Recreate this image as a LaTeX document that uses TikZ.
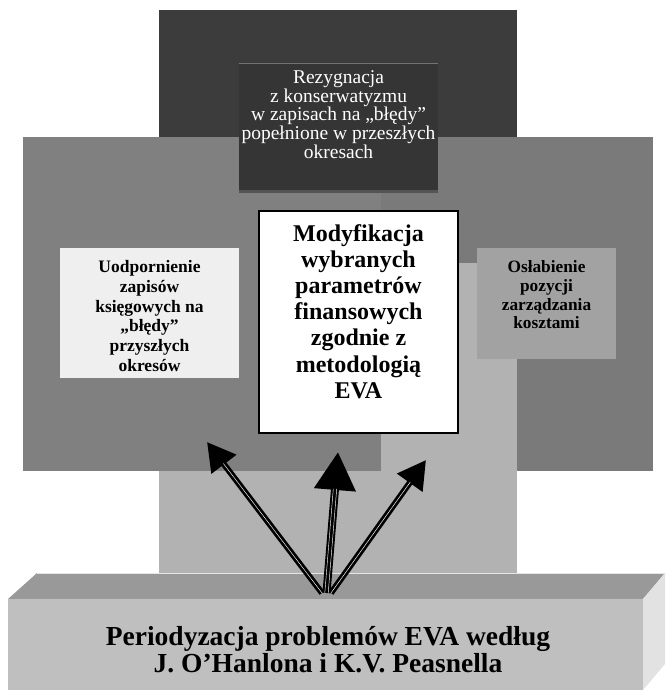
\documentclass[tikz,border=0pt]{standalone}
\usepackage{fontspec}
\setmainfont{Liberation Serif}
\usetikzlibrary{arrows.meta}
\definecolor{cdark}{HTML}{3C3C3C}
\definecolor{cinner}{HTML}{353535}
\definecolor{cgrayL}{HTML}{808080}
\definecolor{cgrayR}{HTML}{7A7A7A}
\definecolor{ccol}{HTML}{B2B2B2}
\definecolor{cleft}{HTML}{EFEFEF}
\definecolor{cright}{HTML}{A2A2A2}
\definecolor{cfront}{HTML}{BFBFBF}
\definecolor{ctop}{HTML}{999999}
\definecolor{cside}{HTML}{E2E2E2}
\tikzset{
  lbl/.style={align=center, inner sep=0pt},
  shaft/.style={line width=6pt, black},
  shaftline/.style={white, line width=0.45pt},
}
\begin{document}
\begin{tikzpicture}[x=1pt,y=-1pt]
\useasboundingbox (0,0) rectangle (665,690);
% background blocks
\fill[cgrayR] (381,137) rectangle (653,471);
\fill[ccol] (159,263) rectangle (517,573);
\fill[cgrayL] (23,137) rectangle (381,471);
\fill[cdark] (159,10) rectangle (517,137);
% inner dark box
\fill[black!67] (239,190) rectangle (438,192.5);
\fill[cinner] (239,63) rectangle (438,190);
\draw[black!55, line width=0.8pt] (239,63.4) -- (438,63.4);
\node[lbl, text=white, font=\fontsize{19.5}{18.7}\selectfont] (rez) at (338.5,114.5)
  {Rezygnacja\\z konserwatyzmu\\w zapisach na „błędy”\\popełnione w przeszłych\\okresach};
% left light box
\fill[cleft] (60,248) rectangle (239,378);
\node[lbl, font=\bfseries\fontsize{17.5}{19.7}\selectfont] (uod) at (149.5,316)
  {Uodpornienie\\zapisów\\księgowych na\\„błędy”\\przyszłych\\okresów};
% right box
\fill[cright] (477,248) rectangle (616,359);
\node[lbl, font=\bfseries\fontsize{17.3}{18.7}\selectfont] (osl) at (546.5,295)
  {Osłabienie\\pozycji\\zarządzania\\kosztami};
% white central box
\draw[fill=white, draw=black, line width=1.3pt] (259,211) rectangle (458,433);
\node[lbl, font=\bfseries\fontsize{24}{26.2}\selectfont] (mod) at (358.5,311.5)
  {Modyfikacja\\wybranych\\parametrów\\finansowych\\zgodnie z\\metodologią\\EVA};
% bottom 3D box
\fill[ctop] (8,599) -- (37,573) -- (665,573) -- (643,599) -- cycle;
\draw[white!75!ctop, line width=0.8pt] (37,573.4) -- (665,573.4);
\fill[cside] (643,599) -- (665,573) -- (665,664) -- (643,690) -- cycle;
\fill[cfront] (8,599) rectangle (643,690);
\node[lbl, font=\bfseries\fontsize{27.5}{27}\selectfont] (per) at (328,650)
  {Periodyzacja problemów EVA według\\J. O’Hanlona i K.V. Peasnella};
% arrows
\coordinate (oL) at (322,593);
\coordinate (tL) at (207,442);
\coordinate (oR) at (331,593);
\coordinate (tR) at (426,460);
\coordinate (oM) at (326.5,593);
\coordinate (tM) at (338,452);
\coordinate (oM1) at (324.8,593);
\coordinate (tM1) at (336.3,452);
\coordinate (oM2) at (328.2,593);
\coordinate (tM2) at (339.7,452);
\draw[shaft, -{Triangle[length=28pt,width=30pt]}] (oL) -- (tL);
\draw[shaftline, shorten >=27pt] (oL) -- (tL);
\draw[shaft, -{Triangle[length=28pt,width=30pt]}] (oR) -- (tR);
\draw[shaftline, shorten >=27pt] (oR) -- (tR);
\draw[shaft, line width=8pt, -{Triangle[length=38pt,width=40pt]}] (oM) -- (tM);
\draw[shaftline, shorten >=37pt] (oM1) -- (tM1);
\draw[shaftline, shorten >=37pt] (oM2) -- (tM2);
\end{tikzpicture}
\end{document}
